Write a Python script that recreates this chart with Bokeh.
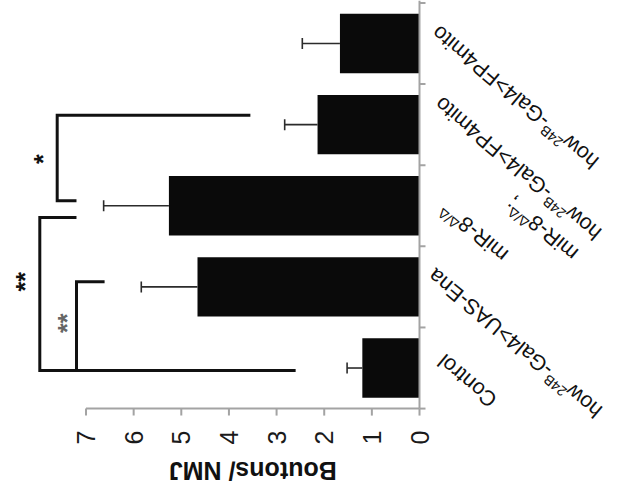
import math
from bokeh.plotting import figure
from bokeh.models import Range1d, ColumnDataSource
from bokeh.core.properties import value
from bokeh.embed import file_html
from bokeh.resources import INLINE

# ---------------- data ----------------
categories = [
    "Control",
    "how24B-Gal4>UAS-Ena",
    "miR-8Δ/Δ",
    "miR-8Δ/Δ; how24B-Gal4>FP4mito",
    "how24B-Gal4>FP4mito",
]
boutons_mean = [1.20, 4.66, 5.26, 2.14, 1.67]
boutons_sem = [0.32, 1.18, 1.37, 0.69, 0.79]
value_ticks = [0, 1, 2, 3, 4, 5, 6, 7]
value_tick_labels = ["0", "1", "2", "3", "4", "5", "6", "7"]
axis_title = "Boutons/ NMJ"
comparisons = [
    ("Control", "how24B-Gal4>UAS-Ena", "**"),
    ("Control", "miR-8Δ/Δ", "**"),
    ("miR-8Δ/Δ", "miR-8Δ/Δ; how24B-Gal4>FP4mito", "*"),
]

# display runs of each category label (text, superscript?)
label_runs = {
    "Control": [[("Control", False)]],
    "how24B-Gal4>UAS-Ena": [[("how", False), ("24B", True), ("-Gal4>UAS-Ena", False)]],
    "miR-8Δ/Δ": [[("miR-8", False), ("Δ/Δ", True)]],
    "miR-8Δ/Δ; how24B-Gal4>FP4mito": [
        [("how", False), ("24B", True), ("-Gal4>FP4mito", False)],
        [("miR-8", False), ("Δ/Δ", True), (";", False)],
    ],
    "how24B-Gal4>FP4mito": [[("how", False), ("24B", True), ("-Gal4>FP4mito", False)]],
}

# ---------------- layout / style ----------------
FRAME_W, FRAME_H = 617, 497
X_START, X_END = 8.795, -4.156
Y_START, Y_END = -1.596, 4.530
PXX = FRAME_W / (X_START - X_END)
PXY = FRAME_H / (Y_END - Y_START)
AXIS_GRAY = "#a3a3a3"
FONT = value("Liberation Sans")

# label anchors (screen px from axis / category centre) and anchoring mode
label_anchor = {
    "Control": [("end", 21.5, -9.8)],
    "how24B-Gal4>UAS-Ena": [("end", 11.9, -14.2)],
    "miR-8Δ/Δ": [("end", 24.6, 0.2)],
    "miR-8Δ/Δ; how24B-Gal4>FP4mito": [("end", 18.5, -23.7), ("start", 155.7, 131.5)],
    "how24B-Gal4>FP4mito": [("end", 15.7, -13.8)],
}
LABEL_FS = 21.5
SUP_SCALE = 0.65
SUP_RAISE = 0.33
LABEL_ANGLE = math.radians(140)

W_EM = {' ': 278, '-': 333, '/': 278, ';': 278, '>': 584, '2': 556, '4': 556, '8': 556,
        'A': 667, 'B': 667, 'C': 722, 'E': 667, 'F': 611, 'G': 778, 'P': 667, 'R': 722,
        'S': 667, 'U': 722, 'a': 556, 'h': 556, 'i': 222, 'l': 222, 'm': 833, 'n': 556,
        'o': 556, 'r': 333, 't': 278, 'w': 722, 'Δ': 668}


def text_w(s, size):
    return sum(W_EM.get(c, 556) for c in s) / 1000.0 * size


p = figure(frame_width=FRAME_W, frame_height=FRAME_H,
           x_range=Range1d(X_START, X_END), y_range=Range1d(Y_START, Y_END),
           output_backend="svg", toolbar_location=None,
           x_axis_location=None, y_axis_location=None,
           min_border=0, min_border_left=0, min_border_right=0,
           min_border_top=0, min_border_bottom=0)
p.grid.visible = False
p.outline_line_color = None
p.background_fill_color = "white"
p.border_fill_color = "white"

ypos = list(range(len(categories)))
cat_y = {c: i for i, c in enumerate(categories)}

# bars
src = ColumnDataSource(dict(y=ypos, m=boutons_mean,
                            up=[m + e for m, e in zip(boutons_mean, boutons_sem)]))
p.hbar(y="y", left=0, right="m", height=0.733, source=src,
       fill_color="#0a0a0a", line_color=None)

# error bars
p.segment(x0="m", y0="y", x1="up", y1="y", source=src, line_color="#2b2b2b", line_width=1.6)
p.scatter(x="up", y="y", source=src, marker="dash", size=11, angle=math.pi / 2,
          line_color="#2b2b2b", line_width=1.6)

# category axis (manual)
p.segment(x0=[0], y0=[-0.5], x1=[0], y1=[Y_END], line_color=AXIS_GRAY, line_width=2)
bounds_y = [i - 0.5 for i in ypos] + [len(ypos) - 0.5]
p.segment(x0=[0] * len(bounds_y), y0=bounds_y, x1=[-6 / PXX] * len(bounds_y), y1=bounds_y,
          line_color=AXIS_GRAY, line_width=2)

# value axis (manual)
p.segment(x0=[min(value_ticks)], y0=[-0.5], x1=[max(value_ticks)], y1=[-0.5],
          line_color=AXIS_GRAY, line_width=2)
p.segment(x0=value_ticks, y0=[-0.5] * len(value_ticks), x1=value_ticks,
          y1=[-0.5 - 7 / PXY] * len(value_ticks), line_color=AXIS_GRAY, line_width=2)
p.text(x=value_ticks, y=[-0.5] * len(value_ticks), text=value_tick_labels,
       angle=math.pi / 2, text_align="right", text_baseline="middle", y_offset=22,
       text_font=FONT, text_font_size="25px", text_color="#1a1a1a")
p.text(x=[(min(value_ticks) + max(value_ticks)) / 2], y=[-0.5], text=[axis_title],
       angle=math.pi, text_align="center", text_baseline="middle", y_offset=62,
       text_font=FONT, text_font_size="25px", text_font_style="bold", text_color="#111111")

# category labels (rotated, with superscripts)
dxr, dyr = math.cos(LABEL_ANGLE), -math.sin(LABEL_ANGLE)
uxr, uyr = -math.sin(LABEL_ANGLE), -math.cos(LABEL_ANGLE)
norm = dict(x=[], y=[], text=[], xo=[], yo=[])
sup = dict(x=[], y=[], text=[], xo=[], yo=[])
for cat in categories:
    for runs, (mode, ax, ay) in zip(label_runs[cat], label_anchor[cat]):
        widths = [text_w(t, LABEL_FS * (SUP_SCALE if s else 1.0)) for t, s in runs]
        total = sum(widths)
        if mode == "end":
            sx, sy = ax - total * dxr, ay - total * dyr
        else:
            sx, sy = ax, ay
        cum = 0.0
        for (t, s), w in zip(runs, widths):
            px = sx + cum * dxr
            py = sy + cum * dyr
            tgt = norm
            if s:
                px += SUP_RAISE * LABEL_FS * uxr
                py += SUP_RAISE * LABEL_FS * uyr
                tgt = sup
            tgt["x"].append(0)
            tgt["y"].append(cat_y[cat])
            tgt["text"].append(t)
            tgt["xo"].append(px)
            tgt["yo"].append(py)
            cum += w
p.text(x="x", y="y", text="text", x_offset="xo", y_offset="yo", source=ColumnDataSource(norm),
       angle=LABEL_ANGLE, text_align="left", text_baseline="alphabetic",
       text_font=FONT, text_font_size=f"{LABEL_FS}px", text_color="#111111")
p.text(x="x", y="y", text="text", x_offset="xo", y_offset="yo", source=ColumnDataSource(sup),
       angle=LABEL_ANGLE, text_align="left", text_baseline="alphabetic",
       text_font=FONT, text_font_size=f"{LABEL_FS * SUP_SCALE:.1f}px", text_color="#111111")

# significance brackets: (vertical x, arm end at first, arm end at second, offset first, offset second)
bracket_geom = [
    (7.20, 7.20, 6.61, -0.031, 0.062),
    (7.97, 2.60, 7.20, -0.031, -0.144),
    (7.605, 7.20, 3.55, 0.062, 0.117),
]
# star label: x value, offset from the second category, colour
star_pos = [(7.535, -0.448, "#666666"), (8.41, -0.938, "#111111"), (8.025, -0.424, "#111111")]
bx, by = [], []
sx_, sy_, st_, sc_ = [], [], [], []
for (a, b, lab), (xv, ea, eb, oa, ob), (stx, sto, scol) in zip(comparisons, bracket_geom, star_pos):
    ya = cat_y[a] + oa
    yb = cat_y[b] + ob
    bx.append([ea, xv, xv, eb])
    by.append([ya, ya, yb, yb])
    sx_.append(stx)
    sy_.append(cat_y[b] + sto)
    st_.append(lab)
    sc_.append(scol)
p.multi_line(xs=bx, ys=by, line_color="#111111", line_width=3, line_join="miter")
p.text(x=sx_, y=sy_, text=st_, text_color=sc_, angle=math.pi / 2, x_offset=6,
       text_align="center", text_baseline="middle",
       text_font=FONT, text_font_size="25px", text_font_style="bold")

open("out.html", "w").write(file_html(p, INLINE))
